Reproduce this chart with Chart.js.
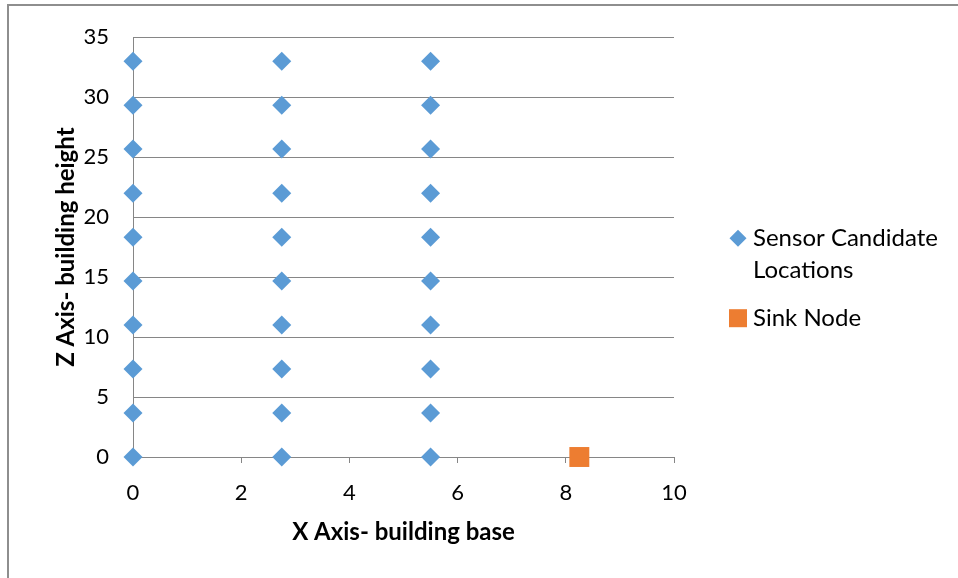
<!DOCTYPE html>
<html>
<head>
<meta charset="utf-8">
<title>Sensor placement</title>
<script src="https://cdn.jsdelivr.net/npm/chart.js@4/dist/chart.umd.min.js"></script>
<style>
  html, body { margin: 0; padding: 0; background: #fff; overflow: hidden; }
  #wrap { position: relative; width: 958px; height: 578px; }
  #wrap canvas { position: absolute; left: 0; top: 0; }
  #frame {
    position: absolute; left: 7px; top: 4px; width: 1000px; height: 1000px;
    border-left: 2px solid #8e8e8e; border-top: 2px solid #8e8e8e;
    pointer-events: none;
  }
</style>
</head>
<body>
<div id="wrap">
  <canvas id="chart" width="958" height="578"></canvas>
  <div id="frame"></div>
</div>
<script>
// Candidate sensor columns along the building base and floor heights
const sensorX = [0, 2.75, 5.5];
const sensorZ = [0, 3.67, 7.33, 11, 14.67, 18.33, 22, 25.67, 29.33, 33];
// Sink node position
const sinkX = [8.25];
const sinkZ = [0];

const seriesNames = ['Sensor Candidate Locations', 'Sink Node'];
const legendLines = [['Sensor Candidate', 'Locations'], ['Sink Node']];
const xTitle = 'X Axis- building base';
const zTitle = 'Z Axis- building height';
const xRange = [0, 10];
const xStep = 2;
const zRange = [0, 35];
const zStep = 5;

const BLUE = '#5b9bd5';
const ORANGE = '#ed7d31';
const GRID = '#868686';
const FONT = 'Lato, "Open Sans", sans-serif';

const sensorPoints = [];
sensorX.forEach(x => sensorZ.forEach(z => sensorPoints.push({ x: x, y: z })));
const sinkPoints = sinkX.map((x, i) => ({ x: x, y: sinkZ[i] }));

function diamond(ctx, cx, cy, r, color) {
  ctx.beginPath();
  ctx.moveTo(cx, cy - r);
  ctx.lineTo(cx + r, cy);
  ctx.lineTo(cx, cy + r);
  ctx.lineTo(cx - r, cy);
  ctx.closePath();
  ctx.fillStyle = color;
  ctx.fill();
}

// Axis titles and the side legend
const decorations = {
  id: 'decorations',
  afterDraw(chart) {
    const ctx = chart.ctx;
    const a = chart.chartArea;
    ctx.save();
    ctx.fillStyle = '#000';
    ctx.font = 'bold 24px ' + FONT;
    ctx.textAlign = 'center';
    ctx.textBaseline = 'middle';
    ctx.fillText(xTitle, (a.left + a.right) / 2, a.bottom + 75);
    ctx.save();
    ctx.translate(a.left - 67, (a.top + a.bottom) / 2);
    ctx.rotate(-Math.PI / 2);
    ctx.fillText(zTitle, 0, 0);
    ctx.restore();

    const mx = a.right + 64;
    const tx = a.right + 79;
    ctx.font = '24px ' + FONT;
    ctx.textAlign = 'left';
    const y1 = a.top + 201;
    diamond(ctx, mx, y1, 8.5, chart.data.datasets[0].backgroundColor);
    ctx.fillStyle = '#000';
    legendLines[0].forEach((t, i) => ctx.fillText(t, tx, y1 + i * 32));
    const y2 = a.top + 281;
    ctx.fillStyle = chart.data.datasets[1].backgroundColor;
    ctx.fillRect(mx - 9, y2 - 9, 18, 18);
    ctx.fillStyle = '#000';
    legendLines[1].forEach((t, i) => ctx.fillText(t, tx, y2 + i * 32));
    ctx.restore();
  }
};

new Chart(document.getElementById('chart'), {
  type: 'scatter',
  data: {
    datasets: [
      {
        label: seriesNames[0],
        data: sensorPoints,
        pointStyle: 'rectRot',
        pointRadius: 9.5,
        pointHoverRadius: 9.5,
        borderWidth: 0,
        backgroundColor: BLUE,
        borderColor: BLUE,
        clip: false
      },
      {
        label: seriesNames[1],
        data: sinkPoints,
        pointStyle: 'rect',
        pointRadius: 14.1,
        pointHoverRadius: 14.1,
        borderWidth: 0,
        backgroundColor: ORANGE,
        borderColor: ORANGE,
        clip: false
      }
    ]
  },
  options: {
    responsive: false,
    animation: false,
    events: [],
    layout: { padding: { left: 73, top: 35, right: 284, bottom: 0 } },
    plugins: { legend: { display: false }, tooltip: { enabled: false } },
    scales: {
      x: {
        type: 'linear',
        min: xRange[0], max: xRange[1],
        afterFit: s => { s.height = 121; },
        ticks: { stepSize: xStep, color: '#000', padding: 17, font: { family: FONT, size: 22 } },
        grid: { drawOnChartArea: false, drawTicks: true, tickLength: 6, color: GRID },
        border: { display: true, color: GRID, width: 1 }
      },
      y: {
        type: 'linear',
        min: zRange[0], max: zRange[1],
        afterFit: s => { s.width = 60; },
        ticks: { stepSize: zStep, color: '#000', padding: 24, font: { family: FONT, size: 22 } },
        grid: { drawTicks: false, color: GRID, lineWidth: 1 },
        border: { display: true, color: GRID, width: 1 }
      }
    }
  },
  plugins: [decorations]
});
</script>
</body>
</html>
